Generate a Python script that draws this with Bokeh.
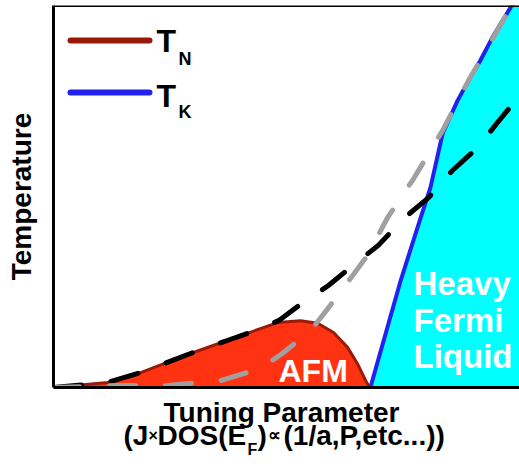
from bokeh.plotting import figure
from bokeh.layouts import column
from bokeh.models import Range1d, FixedTicker, Label, Span
from bokeh.embed import file_html
from bokeh.resources import INLINE

# ---------------- data (tuning parameter 0..1, temperature 0..1) ----------------
# T_N : antiferromagnetic dome
tn_x = [0.0, 0.116, 0.187, 0.294, 0.373, 0.444, 0.481, 0.530, 0.567, 0.601, 0.631, 0.652, 0.670, 0.678]
tn_y = [0.0, 0.013, 0.039, 0.089, 0.123, 0.154, 0.170, 0.175, 0.168, 0.144, 0.105, 0.063, 0.018, 0.0]

# T_K : boundary of heavy Fermi liquid
tk_x = [0.680, 0.745, 0.788, 0.809, 0.835, 0.867, 0.891, 0.916, 0.944, 0.981, 1.0]
tk_y = [0.0, 0.280, 0.445, 0.524, 0.665, 0.751, 0.804, 0.856, 0.921, 0.995, 1.04]

# RKKY-like scale (black dashed)
rk_x = [0.0, 0.116, 0.187, 0.294, 0.373, 0.444, 0.483, 0.536, 0.590, 0.642, 0.697, 0.751, 0.805, 0.856, 0.910, 0.953, 1.0]
rk_y = [0.0, 0.013, 0.039, 0.089, 0.123, 0.154, 0.175, 0.223, 0.267, 0.319, 0.372, 0.442, 0.497, 0.568, 0.628, 0.694, 0.764]

# Kondo scale (gray dashed)
kd_x = [0.0, 0.137, 0.245, 0.358, 0.444, 0.491, 0.552, 0.594, 0.637, 0.674, 0.717, 0.773, 0.835, 0.891, 0.944, 0.981, 1.0]
kd_y = [0.0, 0.005, 0.005, 0.018, 0.050, 0.089, 0.149, 0.215, 0.285, 0.346, 0.445, 0.547, 0.673, 0.804, 0.916, 0.995, 1.04]

# ---------------- layout helpers (pixel -> data) ----------------
W, H = 519, 470
L, R, T, B = 53, 519, 5, 387
MAIN_H = 395
def dx(px):
    return (px - L) / (R - L)
def dy(py):
    return (B - py) / (B - T)

FONT = "Liberation Sans"
RED_LINE = "#9A1A0A"
RED_FILL = "#FF3311"
BLUE = "#2222EE"
CYAN = "#00FFFF"
GRAY = "#A0A0A0"
SHIFT = 0.36  # baseline compensation (fraction of font size)

p = figure(width=W, height=MAIN_H, output_backend="svg", toolbar_location=None,
           x_range=Range1d(0, 1), y_range=Range1d(0, 1),
           min_border_left=L, min_border_right=0, min_border_top=T, min_border_bottom=MAIN_H - B)
p.outline_line_color = None
p.grid.visible = False
p.background_fill_color = "white"
p.border_fill_color = "white"

for ax in (p.xaxis[0], p.yaxis[0]):
    ax.ticker = FixedTicker(ticks=[])
    ax.minor_tick_line_color = None
    ax.major_tick_line_color = None
    ax.major_tick_out = 0
    ax.major_tick_in = 0
    ax.axis_line_width = 3
    ax.axis_line_color = "black"
    ax.axis_label_text_font = FONT
    ax.axis_label_text_font_style = "bold"
    ax.axis_label_text_font_size = "28px"
    ax.axis_label_text_color = "black"

p.yaxis[0].axis_label = "Temperature"
p.yaxis[0].axis_label_standoff = 17

p.add_layout(Span(location=1, dimension="width", line_color="black", line_width=3))

# heavy Fermi liquid region
cx = tk_x + [1.0, 1.0]
cy = tk_y + [1.04, 0.0]
p.patch(cx, cy, fill_color=CYAN, line_color=None)

# AFM dome
p.patch(tn_x, tn_y, fill_color=RED_FILL, line_color=RED_LINE, line_width=3)

# T_K line
p.line(tk_x, tk_y, line_color=BLUE, line_width=4)

# dashed crossover scales
p.line(rk_x, rk_y, line_color="black", line_width=5, line_dash="28 30", line_cap="round")
p.line(kd_x, kd_y, line_color=GRAY, line_width=5, line_dash="26 30", line_cap="round")

# legend
p.line([dx(70), dx(149)], [dy(40), dy(40)], line_color=RED_LINE, line_width=6, line_cap="round")
p.line([dx(70), dx(149)], [dy(92), dy(92)], line_color=BLUE, line_width=6, line_cap="round")

def lab(fig, px, py, text, size, color="black", conv=True, align="left"):
    ypos = py - SHIFT * size
    fig.add_layout(Label(x=dx(px) if conv else px, y=dy(ypos) if conv else ypos, text=text,
                         text_font=FONT, text_font_style="bold",
                         text_font_size=f"{size}px", text_color=color, text_align=align,
                         text_baseline="alphabetic"))

lab(p, 156, 52, "T", 32)
lab(p, 178, 65, "N", 18)
lab(p, 156, 107, "T", 32)
lab(p, 178, 118, "K", 18)

# region labels
lab(p, 278, 382, "AFM", 32, "white")
lab(p, 413, 295, "Heavy", 33, "white")
lab(p, 413, 332, "Fermi", 33, "white")
lab(p, 413, 368, "Liquid", 33, "white")

# x-axis title (two lines, in a strip below the main figure; frame aligned with main frame)
p2 = figure(width=W, height=H - MAIN_H, output_backend="svg", toolbar_location=None,
            x_range=Range1d(L, R), y_range=Range1d(H, MAIN_H),
            x_axis_type=None, y_axis_type=None,
            min_border_left=L, min_border_right=0, min_border_top=0, min_border_bottom=0)
p2.outline_line_color = None
p2.background_fill_color = "white"
p2.border_fill_color = "white"

lab(p2, 281, 422, "Tuning Parameter", 28, conv=False, align="center")
lab(p2, 123, 445, "(J", 28, conv=False)
lab(p2, 148, 441, "\u00d7", 16, conv=False)
lab(p2, 157, 445, "DOS(E", 28, conv=False)
lab(p2, 247, 455, "F", 16, conv=False)
lab(p2, 257, 445, ")", 28, conv=False)
lab(p2, 267, 441, "\u221d", 18, conv=False)
lab(p2, 283, 445, "(1/a,P,etc...))", 28, conv=False)

layout = column(p, p2, spacing=0)
open("out.html", "w").write(file_html(layout, INLINE))
